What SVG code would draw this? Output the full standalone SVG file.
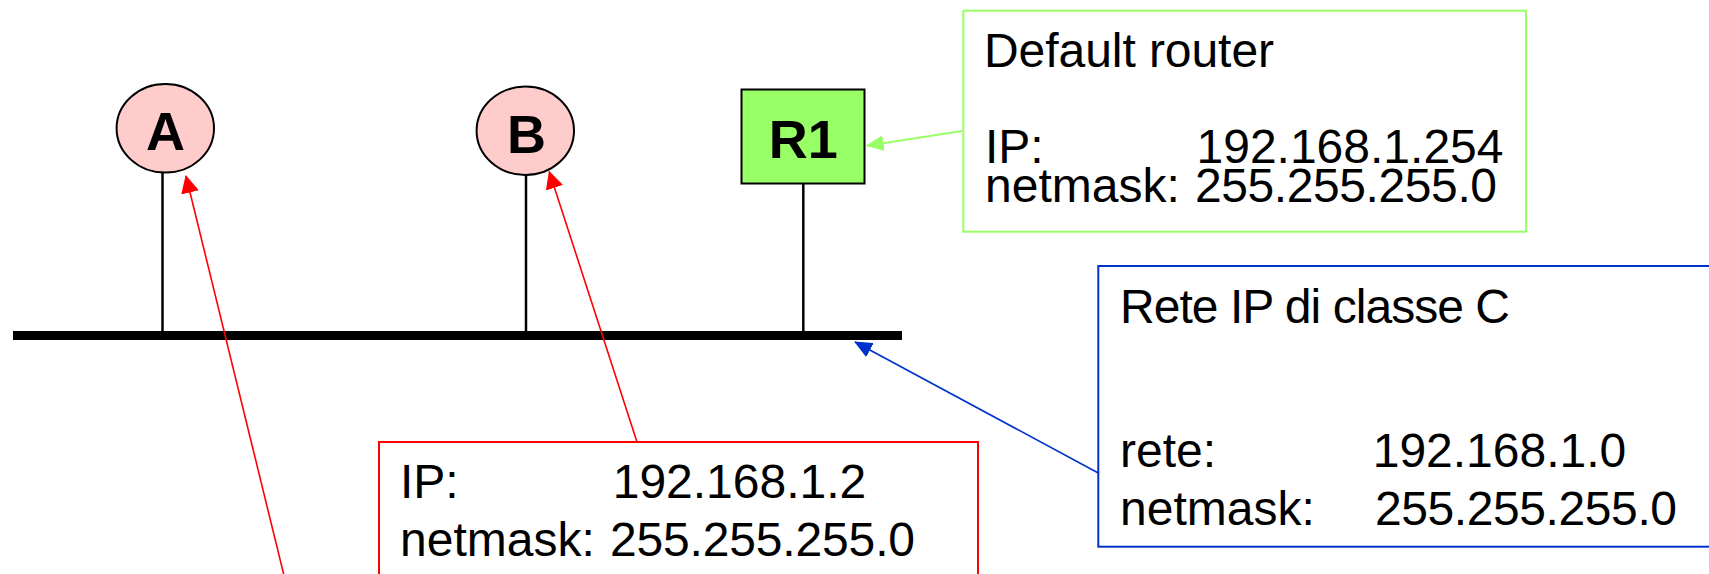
<svg xmlns="http://www.w3.org/2000/svg" width="1709" height="574" viewBox="0 0 1709 574">
  <style>
    .lbl { font-family: "Liberation Sans", Arial, sans-serif; font-size: 48px; fill: #000; }
    .node { font-family: "Liberation Sans", Arial, sans-serif; font-size: 54px; font-weight: bold; fill: #000; text-anchor: middle; }
    .stem { stroke: #000; stroke-width: 2.5; fill: none; }
    .host { fill: #FFCCCC; stroke: #000; stroke-width: 2; }
  </style>
  <defs>
    <marker id="arrRed" markerUnits="userSpaceOnUse" markerWidth="18" markerHeight="18" viewBox="0 0 16 16" refX="15" refY="8" orient="auto">
      <path d="M0,0 L16,8 L0,16 Z" fill="#FF0000"/>
    </marker>
    <marker id="arrGreen" markerUnits="userSpaceOnUse" markerWidth="18" markerHeight="16" viewBox="0 0 18 16" refX="17" refY="8" orient="auto">
      <path d="M0,0 L18,8 L0,16 Z" fill="#99FF66"/>
    </marker>
    <marker id="arrBlue" markerUnits="userSpaceOnUse" markerWidth="18" markerHeight="16" viewBox="0 0 18 16" refX="17" refY="8" orient="auto">
      <path d="M0,0 L18,8 L0,16 Z" fill="#0033CC"/>
    </marker>
  </defs>
  <rect width="1709" height="574" fill="#FFFFFF"/>

  <g id="connectors">
    <line id="bus" x1="13" y1="335.5" x2="902" y2="335.5" stroke="#000" stroke-width="9"/>
    <line class="stem" x1="162.5" y1="172.5" x2="162.5" y2="332"/>
    <line class="stem" x1="526" y1="174" x2="526" y2="332"/>
    <line class="stem" x1="803.3" y1="184" x2="803.3" y2="332"/>
    <line x1="290" y1="600" x2="186" y2="176" stroke="#FF0000" stroke-width="1.6" marker-end="url(#arrRed)"/>
    <line x1="637" y1="442" x2="549.3" y2="171.7" stroke="#FF0000" stroke-width="1.6" marker-end="url(#arrRed)"/>
    <line x1="962" y1="131" x2="866.7" y2="145.7" stroke="#99FF66" stroke-width="2" marker-end="url(#arrGreen)"/>
    <line x1="1098.3" y1="473" x2="855" y2="342" stroke="#0033CC" stroke-width="1.6" marker-end="url(#arrBlue)"/>
  </g>

  <g id="nodeA">
    <ellipse class="host" cx="165.3" cy="128.3" rx="48.7" ry="44.3"/>
    <text class="node" x="165.5" y="150">A</text>
  </g>

  <g id="nodeB">
    <ellipse class="host" cx="525.3" cy="130.8" rx="48.7" ry="44.2"/>
    <text class="node" x="526.5" y="152.7">B</text>
  </g>

  <g id="nodeR1">
    <rect x="741.5" y="89.5" width="123" height="94" fill="#99FF66" stroke="#000" stroke-width="2"/>
    <text class="node" x="803.3" y="158.3">R1</text>
  </g>

  <g id="boxRouter">
    <rect x="963.3" y="10.7" width="562.7" height="221" fill="none" stroke="#99FF66" stroke-width="2"/>
    <text class="lbl" x="984" y="66.7" textLength="290">Default router</text>
    <text class="lbl" x="985" y="162.7">IP:</text>
    <text class="lbl" x="1196.5" y="162.7">192.168.1.254</text>
    <text class="lbl" x="985" y="201.7">netmask:</text>
    <text class="lbl" x="1195" y="201.7" textLength="302">255.255.255.0</text>
  </g>

  <g id="boxNet">
    <rect x="1098.3" y="266" width="650" height="280.7" fill="none" stroke="#0033CC" stroke-width="2"/>
    <text class="lbl" x="1120" y="323.3" textLength="390">Rete IP di classe C</text>
    <text class="lbl" x="1120" y="466.7">rete:</text>
    <text class="lbl" x="1372.7" y="466.7">192.168.1.0</text>
    <text class="lbl" x="1120" y="525">netmask:</text>
    <text class="lbl" x="1375" y="525" textLength="302">255.255.255.0</text>
  </g>

  <g id="boxB">
    <rect x="379" y="442" width="599" height="160" fill="none" stroke="#FF0000" stroke-width="2"/>
    <text class="lbl" x="400" y="498.3">IP:</text>
    <text class="lbl" x="612.7" y="498.3">192.168.1.2</text>
    <text class="lbl" x="400" y="556">netmask:</text>
    <text class="lbl" x="610" y="556" textLength="305">255.255.255.0</text>
  </g>
</svg>
